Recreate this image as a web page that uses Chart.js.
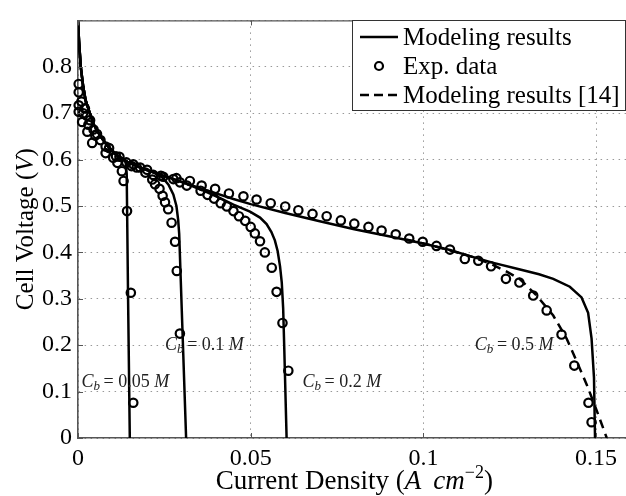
<!DOCTYPE html>
<html>
<head>
<meta charset="utf-8">
<script src="https://cdn.jsdelivr.net/npm/chart.js@4.4.0/dist/chart.umd.min.js"></script>
<style>
  html, body { margin: 0; padding: 0; background: #fff; overflow: hidden; }
  #wrap { width: 640px; height: 496px; }
</style>
</head>
<body>
<div id="wrap"><canvas id="cellChart" width="640" height="496"></canvas></div>
<script>
// model curves, [current density A/cm2, cell voltage V]
const modelStart = [[0, 0.9], [0.0003, 0.855], [0.0008, 0.8], [0.0015, 0.758], [0.0022, 0.728],
  [0.0035, 0.698], [0.0046, 0.675], [0.0065, 0.65], [0.0085, 0.63], [0.011, 0.611]];
const modelMid = [[0.0143, 0.595], [0.018, 0.583], [0.022, 0.572]];
const model005 = [[0.0128, 0.602], [0.0138, 0.594], [0.0141, 0.57], [0.0145, 0.3], [0.015, 0]];
const model01 = [[0.0245, 0.561], [0.0262, 0.546], [0.0276, 0.525], [0.0285, 0.5], [0.029, 0.47],
  [0.0293, 0.44], [0.0303, 0.22], [0.0313, 0]];
const model02 = [[0.027, 0.56], [0.032, 0.546], [0.036, 0.534], [0.04, 0.521], [0.045, 0.503],
  [0.0498, 0.488], [0.0527, 0.475], [0.0546, 0.461], [0.056, 0.444], [0.057, 0.426], [0.0578, 0.403],
  [0.0585, 0.37], [0.059, 0.335], [0.0594, 0.28], [0.0597, 0.2], [0.0604, 0]];
const model05 = [[0.03, 0.552], [0.038, 0.532], [0.045, 0.515], [0.05, 0.504], [0.06, 0.485],
  [0.07, 0.467], [0.08, 0.45], [0.09, 0.435], [0.1, 0.419], [0.1077, 0.405], [0.1135, 0.392],
  [0.12, 0.378], [0.128, 0.363], [0.1335, 0.353], [0.1376, 0.343], [0.1424, 0.326], [0.1458, 0.303],
  [0.1477, 0.27], [0.1487, 0.214], [0.1494, 0.13], [0.1497, 0]];
const model14 = [[0.095, 0.428], [0.105, 0.41], [0.1135, 0.392], [0.1193, 0.376], [0.124, 0.359],
  [0.128, 0.342], [0.1328, 0.307], [0.1376, 0.264], [0.1415, 0.214], [0.1444, 0.165], [0.1473, 0.115],
  [0.1502, 0.059], [0.1531, 0]];

// experimental points
const exp005 = [[0.0002, 0.703], [0.0012, 0.681], [0.0027, 0.66], [0.0041, 0.636], [0.008, 0.614],
  [0.0114, 0.593], [0.0127, 0.575], [0.0132, 0.554], [0.0142, 0.489], [0.0153, 0.313], [0.016, 0.076]];
const exp01 = [[0.0002, 0.717], [0.0015, 0.7], [0.003, 0.675], [0.005, 0.652], [0.008, 0.628],
  [0.011, 0.607], [0.014, 0.594], [0.017, 0.583], [0.0195, 0.572], [0.0215, 0.557], [0.0223, 0.547],
  [0.0236, 0.537], [0.0245, 0.522], [0.0252, 0.508], [0.0261, 0.493], [0.0271, 0.464], [0.0281, 0.423],
  [0.0286, 0.36], [0.0295, 0.225]];
const exp02 = [[0.0002, 0.745], [0.002, 0.71], [0.0035, 0.685], [0.0055, 0.655], [0.009, 0.625],
  [0.012, 0.606], [0.016, 0.59], [0.02, 0.578], [0.024, 0.565], [0.0276, 0.558], [0.0295, 0.551],
  [0.0315, 0.544], [0.0355, 0.533], [0.0375, 0.524], [0.0394, 0.516], [0.0413, 0.506],
  [0.0431, 0.499], [0.045, 0.489], [0.0466, 0.478], [0.0484, 0.468], [0.05, 0.455], [0.0512, 0.441],
  [0.0527, 0.424], [0.0541, 0.4], [0.0561, 0.367], [0.0575, 0.315], [0.0592, 0.248], [0.0609, 0.145]];
const exp05 = [[0.0002, 0.763], [0.001, 0.725], [0.0025, 0.695], [0.0045, 0.665], [0.0065, 0.642],
  [0.0102, 0.604], [0.0155, 0.586], [0.018, 0.583], [0.0218, 0.567], [0.0247, 0.563], [0.0285, 0.56],
  [0.0324, 0.554], [0.0358, 0.544], [0.0397, 0.537], [0.0437, 0.527], [0.0479, 0.521], [0.0517, 0.514],
  [0.0558, 0.506], [0.06, 0.499], [0.0638, 0.491], [0.0679, 0.483], [0.072, 0.478], [0.0761, 0.469],
  [0.08, 0.462], [0.0841, 0.455], [0.0879, 0.447], [0.092, 0.439], [0.0959, 0.43], [0.0998, 0.423],
  [0.1038, 0.414], [0.1077, 0.406], [0.112, 0.386], [0.1159, 0.382], [0.1196, 0.37], [0.1239, 0.343],
  [0.1278, 0.335], [0.1318, 0.307], [0.1357, 0.275], [0.14, 0.223], [0.1437, 0.156], [0.1478, 0.076],
  [0.1487, 0.034]];

const cbLabels = ["0.05", "0.1", "0.2", "0.5"];
const legendLabels = ["Modeling results", "Exp. data", "Modeling results [14]"];

const SERIF = "'Liberation Serif', 'DejaVu Serif', serif";
const toXY = (arr) => arr.map((p) => ({ x: p[0], y: p[1] }));

function lineSet(points, dash) {
  return {
    data: toXY(points),
    showLine: true,
    borderColor: "#000",
    borderWidth: 2.5,
    borderDash: dash || [],
    pointRadius: 0,
    fill: false,
  };
}

function dotSet(points) {
  return {
    data: toXY(points),
    showLine: false,
    pointStyle: "circle",
    pointRadius: 4.2,
    borderWidth: 2.2,
    borderColor: "#000",
    backgroundColor: "rgba(255,255,255,0)",
    clip: false,
  };
}

// mixed-font text helper: parts = [[text, font, dy]]
function drawParts(ctx, parts, x, y, align) {
  let total = 0;
  parts.forEach((p) => { ctx.font = p[1]; total += ctx.measureText(p[0]).width; });
  let cx = align === "center" ? x - total / 2 : x;
  parts.forEach((p) => {
    ctx.font = p[1];
    ctx.fillText(p[0], cx, y + (p[2] || 0));
    cx += ctx.measureText(p[0]).width;
  });
}

const decorations = {
  id: "decorations",
  afterDraw(chart) {
    const { ctx, chartArea: a, scales } = chart;
    const sx = scales.x, sy = scales.y;
    ctx.save();

    // frame top + inner ticks
    ctx.strokeStyle = "#555";
    ctx.lineWidth = 1.2;
    ctx.beginPath();
    ctx.moveTo(a.left, a.top + 0.5);
    ctx.lineTo(a.right, a.top + 0.5);
    ctx.lineTo(a.right, a.bottom);
    ctx.stroke();
    ctx.lineWidth = 1;
    sx.ticks.forEach((t) => {
      const px = Math.round(sx.getPixelForValue(t.value)) + 0.5;
      ctx.beginPath();
      ctx.moveTo(px, a.bottom); ctx.lineTo(px, a.bottom - 5);
      ctx.moveTo(px, a.top); ctx.lineTo(px, a.top + 5);
      ctx.stroke();
    });
    sy.ticks.forEach((t) => {
      const py = Math.round(sy.getPixelForValue(t.value)) + 0.5;
      ctx.beginPath();
      ctx.moveTo(a.left, py); ctx.lineTo(a.left + 5, py);
      ctx.stroke();
    });

    // concentration labels
    ctx.fillStyle = "#222";
    ctx.textBaseline = "middle";
    const it = "italic 18px " + SERIF, up = "18px " + SERIF, sub = "italic 13px " + SERIF;
    const spots = [[0.001, 0.12], [0.0252, 0.2], [0.065, 0.12], [0.1149, 0.2]];
    cbLabels.forEach((c, i) => {
      drawParts(ctx, [["C", it], ["b", sub, 4], ["\u2009= " + c + " ", up], ["M", it]],
        sx.getPixelForValue(spots[i][0]), sy.getPixelForValue(spots[i][1]), "left");
    });

    // axis titles
    ctx.fillStyle = "#000";
    ctx.textBaseline = "alphabetic";
    const t27 = "27px " + SERIF, i27 = "italic 27px " + SERIF;
    drawParts(ctx, [["Current Density (", t27], ["A\u2009 cm", i27], ["\u22122", "18px " + SERIF, -11], [")", t27]],
      (a.left + a.right) / 2, 489, "center");
    ctx.save();
    ctx.translate(33, (a.top + a.bottom) / 2);
    ctx.rotate(-Math.PI / 2);
    const t25 = "25px " + SERIF, i25 = "italic 25px " + SERIF;
    drawParts(ctx, [["Cell Voltage (", t25], ["V", i25], [")", t25]], 0, 0, "center");
    ctx.restore();

    // legend box
    ctx.fillStyle = "#fff";
    ctx.fillRect(352.5, 20.5, 273, 90);
    ctx.strokeStyle = "#333";
    ctx.lineWidth = 1;
    ctx.strokeRect(352.5, 20.5, 273, 90);
    const rows = [37, 66, 95];
    ctx.strokeStyle = "#000";
    ctx.lineWidth = 2.5;
    ctx.beginPath(); ctx.moveTo(360, rows[0]); ctx.lineTo(398, rows[0]); ctx.stroke();
    ctx.lineWidth = 2.2;
    ctx.beginPath(); ctx.arc(379, rows[1], 4, 0, Math.PI * 2); ctx.stroke();
    ctx.lineWidth = 2.5;
    ctx.setLineDash([9, 5]);
    ctx.beginPath(); ctx.moveTo(360, rows[2]); ctx.lineTo(398, rows[2]); ctx.stroke();
    ctx.setLineDash([]);
    ctx.fillStyle = "#000";
    ctx.font = t25;
    ctx.textBaseline = "middle";
    legendLabels.forEach((l, i) => ctx.fillText(l, 403, rows[i] + 1));
    ctx.restore();
  },
};

const fmt = (v) => String(+Number(v).toFixed(2));

new Chart(document.getElementById("cellChart").getContext("2d"), {
  type: "scatter",
  data: {
    datasets: [
      lineSet(modelStart.concat(model005)),
      lineSet(modelStart.concat(modelMid, model01)),
      lineSet(modelStart.concat(modelMid, model02)),
      lineSet(modelStart.concat(modelMid, model05)),
      lineSet(model14, [9, 6]),
      dotSet(exp005),
      dotSet(exp01),
      dotSet(exp02),
      dotSet(exp05),
    ],
  },
  options: {
    responsive: false,
    animation: false,
    devicePixelRatio: 1,
    layout: { padding: { top: 14, right: 9.4, left: 0, bottom: 0 } },
    plugins: { legend: { display: false }, tooltip: { enabled: false } },
    scales: {
      x: {
        type: "linear",
        min: 0,
        max: 0.16,
        afterFit: (s) => { s.height = 58; },
        ticks: {
          stepSize: 0.05,
          includeBounds: false,
          padding: 6,
          color: "#000",
          font: { family: SERIF, size: 24 },
          maxRotation: 0,
          callback: (v) => fmt(v),
        },
        grid: { color: "#999", lineWidth: 1, drawTicks: false },
        border: { display: true, color: "#555", width: 1.6, dash: [1.5, 4.5] },
      },
      y: {
        type: "linear",
        min: 0,
        max: 0.9,
        afterFit: (s) => { s.width = 78; },
        ticks: {
          stepSize: 0.1,
          padding: 6,
          color: "#000",
          font: { family: SERIF, size: 24 },
          callback: (v) => (v > 0.85 ? "" : fmt(v)),
        },
        grid: { color: "#999", lineWidth: 1, drawTicks: false },
        border: { display: true, color: "#555", width: 1.6, dash: [1.5, 4.5] },
      },
    },
  },
  plugins: [decorations],
});
</script>
</body>
</html>
